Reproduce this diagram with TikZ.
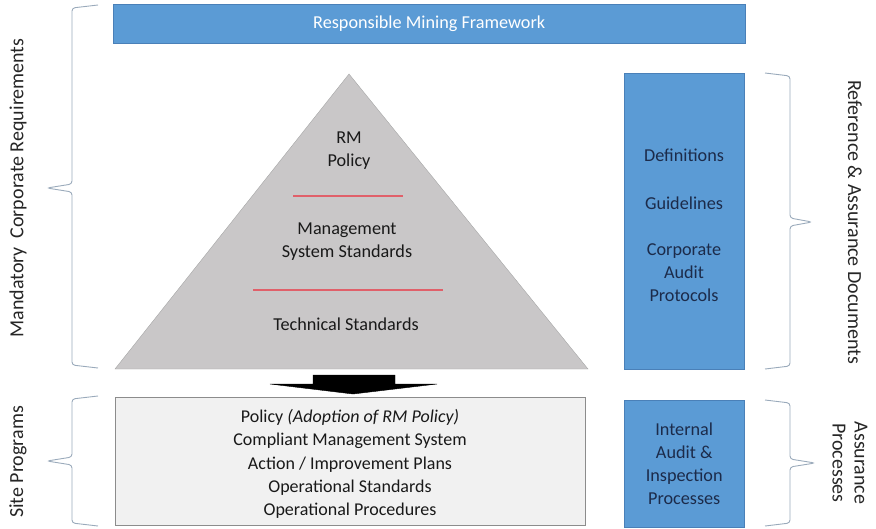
\documentclass[tikz,border=0pt]{standalone}
\usepackage{fontspec}
\setmainfont{Carlito}
\usetikzlibrary{positioning}
\definecolor{barblue}{HTML}{5B9BD5}
\definecolor{barline}{HTML}{4A80B8}
\definecolor{navy}{HTML}{1C2B4A}
\definecolor{pyrgray}{HTML}{C9C7C8}
\definecolor{boxgray}{HTML}{F1F1F1}
\definecolor{bracecol}{HTML}{9AAABB}
\definecolor{redrule}{HTML}{E0606A}
\begin{document}
\begin{tikzpicture}[x=1pt,y=-1pt,every node/.append style={align=center,font=\fontsize{18.2}{23}\selectfont,text=black!90},bar/.style={rectangle,draw=barline,fill=barblue,inner sep=0pt,anchor=north west},side/.style={font=\fontsize{20}{22}\selectfont,text=black!85},brc/.style={draw=bracecol,line width=0.9pt,rounded corners=3pt},]
    \useasboundingbox (0,0) rectangle (876,528);
    \node [bar, minimum width=632pt, minimum height=39pt, text=white] (RMF) at (113,4) {Responsible Mining Framework};
    \node [bar, minimum width=120pt, minimum height=296pt] (RefBox) at (624,73) {};
    \node [bar, minimum width=120pt, minimum height=127pt] (AsBox) at (624,400) {};
    
    %pyramid
    \draw[fill=pyrgray, draw=black!35] (115,369) -- (349,74) -- (588,369) -- cycle;
    \node (RM) at (349,151) {RM\\Policy};
    \node (MSS) at (347,242) {Management\\System Standards};
    \node (TS) at (346,324) {Technical Standards};
    \draw[redrule, line width=1.2pt] (293,196) -- (403,196);
    \draw[redrule, line width=1.2pt] (253,290) -- (443,290);
    
    \draw[fill=black] (313,375) -- (395,375) -- (395,384) -- (437,384) -- (353,394) -- (270,384) -- (313,384) -- cycle;
    
    \node [rectangle, draw=black!45, fill=boxgray, minimum width=470pt, minimum height=128pt, anchor=north west] (Site) at (115,397) {};
    \node [font=\fontsize{18}{23.2}\selectfont] (SiteTxt) at (350,464) {Policy \textit{(Adoption of RM Policy)}\\Compliant Management System\\Action / Improvement Plans\\Operational Standards\\Operational Procedures};
    
    \node [text=navy] (Def) at (684,155) {Definitions};
    \node [text=navy, below=48pt of Def.center, anchor=center] (Gui) {Guidelines};
    \node [text=navy] (CAP) at (684,273) {Corporate\\Audit\\Protocols};
    \node [text=navy] (IAIP) at (AsBox.center) {Internal\\Audit \&\\Inspection\\Processes};
    
    %braces
    \draw[brc] (98,5) -- (72,8) -- (72,184) -- (47,188) -- (72,192) -- (72,365) -- (98,368);
    \draw[brc] (98,396) -- (72,399) -- (72,457) -- (47,461) -- (72,465) -- (72,523) -- (98,526);
    \draw[brc] (765,73) -- (790,76) -- (790,218) -- (812,222) -- (790,226) -- (790,366) -- (765,369);
    \draw[brc] (765,400) -- (790,403) -- (790,459) -- (815,463) -- (790,467) -- (790,523) -- (765,526);
    \node [side, rotate=90] (MCR) at (18,188) {Mandatory~ Corporate Requirements};
    \node [side, rotate=90] (SP) at (18,462) {Site Programs};
    \node [side, rotate=-90] (RAD) at (855,222) {Reference \& Assurance Documents};
    \node [side, rotate=-90] (AP) at (850,463) {Assurance\\Processes};
\end{tikzpicture}
\end{document}
